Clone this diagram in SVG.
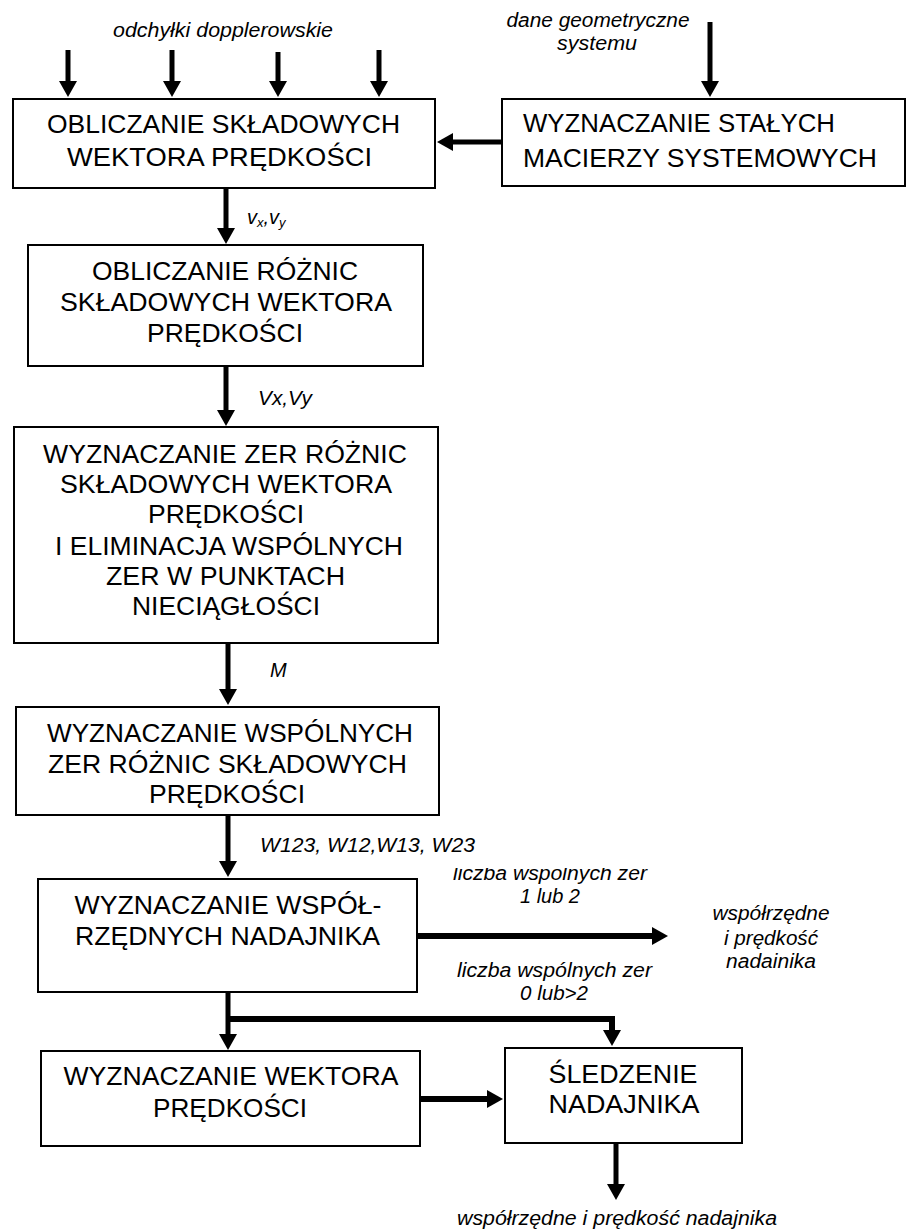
<svg xmlns="http://www.w3.org/2000/svg" width="919" height="1229" viewBox="0 0 919 1229">
<style>
.box{fill:#fff;stroke:#000;stroke-width:2}
.bt{font-family:"Liberation Sans",Arial,sans-serif;font-size:26px;fill:#000;text-anchor:middle}
.bl{font-family:"Liberation Sans",Arial,sans-serif;font-size:26px;fill:#000}
.lb{font-family:"Liberation Sans",Arial,sans-serif;font-size:20px;font-style:italic;fill:#000}
.lbm{font-family:"Liberation Sans",Arial,sans-serif;font-size:20px;font-style:italic;fill:#000;text-anchor:middle}
.cn{fill:none;stroke:#000;stroke-width:5;marker-end:url(#ah)}
.cn6{fill:none;stroke:#000;stroke-width:6;marker-end:url(#ah)}
</style>
<defs>
<marker id="ah" viewBox="0 0 16 18" refX="4" refY="9" markerWidth="16" markerHeight="18" markerUnits="userSpaceOnUse" orient="auto">
<path d="M0,0 L16,9 L0,18 z" fill="#000"/>
</marker>
<clipPath id="clipTop"><rect x="400" y="868" width="300" height="60"/></clipPath>
<clipPath id="clipBot"><rect x="400" y="950" width="300" height="52"/></clipPath>
</defs>
<rect width="919" height="1229" fill="#fff"/>

<g id="connectors">
<line class="cn" x1="68" y1="50" x2="68" y2="85"/>
<line class="cn" x1="172" y1="50" x2="172" y2="85"/>
<line class="cn" x1="278" y1="52" x2="278" y2="85"/>
<line class="cn" x1="379" y1="50" x2="379" y2="85"/>
<line class="cn" x1="710" y1="22" x2="710" y2="85"/>
<line class="cn" x1="502" y1="142" x2="449" y2="142"/>
<line class="cn" x1="226" y1="189" x2="226" y2="232"/>
<line class="cn" x1="226" y1="367" x2="226" y2="414"/>
<line class="cn" x1="228" y1="644" x2="228" y2="693"/>
<line class="cn" x1="228" y1="816" x2="228" y2="865"/>
<line class="cn6" x1="418" y1="936" x2="656" y2="936"/>
<line class="cn" x1="228" y1="993" x2="228" y2="1038"/>
<polyline class="cn6" points="228,1019 612,1019 612,1034"/>
<line class="cn6" x1="421" y1="1099" x2="491" y2="1099"/>
<line class="cn" x1="616" y1="1144" x2="616" y2="1188"/>
</g>

<g id="labels">
<text class="lbm" x="223" y="37" textLength="220" lengthAdjust="spacingAndGlyphs">odchyłki dopplerowskie</text>
<text class="lbm" x="598" y="27" textLength="183" lengthAdjust="spacingAndGlyphs">dane geometryczne</text>
<text class="lbm" x="597" y="50" textLength="80" lengthAdjust="spacingAndGlyphs">systemu</text>
<text class="lb" x="247" y="224">v<tspan font-size="13" dy="3">x</tspan><tspan dy="-3">,v</tspan><tspan font-size="13" dy="3">y</tspan></text>
<text class="lb" x="258" y="405" textLength="54" lengthAdjust="spacingAndGlyphs">Vx,Vy</text>
<text class="lb" x="270" y="677">M</text>
<text class="lb" x="260" y="852" textLength="215" lengthAdjust="spacingAndGlyphs">W123, W12,W13, W23</text>
<text class="lb" x="453" y="880" textLength="194" lengthAdjust="spacingAndGlyphs" clip-path="url(#clipTop)">liczba wspólnych zer</text>
<text class="lb" x="520" y="903" textLength="60" lengthAdjust="spacingAndGlyphs">1 lub 2</text>
<text class="lbm" x="771" y="920" textLength="117" lengthAdjust="spacingAndGlyphs">współrzędne</text>
<text class="lbm" x="771" y="945" textLength="94" lengthAdjust="spacingAndGlyphs">i prędkość</text>
<text class="lbm" x="771" y="968" textLength="90" lengthAdjust="spacingAndGlyphs">nadainika</text>
<text class="lb" x="457" y="977" textLength="195" lengthAdjust="spacingAndGlyphs">liczba wspólnych zer</text>
<text class="lb" x="520" y="1000" textLength="68" lengthAdjust="spacingAndGlyphs" clip-path="url(#clipBot)">0 lub&gt;2</text>
<text class="lbm" x="617" y="1225" textLength="320" lengthAdjust="spacingAndGlyphs">współrzędne i prędkość nadajnika</text>
</g>

<g id="node-obliczanie-skladowych">
<rect class="box" x="13" y="99" width="422" height="89"/>
<text class="bt" x="223.5" y="133" textLength="353" lengthAdjust="spacingAndGlyphs">OBLICZANIE SKŁADOWYCH</text>
<text class="bt" x="219.5" y="166" textLength="305" lengthAdjust="spacingAndGlyphs">WEKTORA PRĘDKOŚCI</text>
</g>

<g id="node-wyznaczanie-macierzy">
<rect class="box" x="502" y="99" width="403" height="87"/>
<text class="bl" x="523" y="132" textLength="312" lengthAdjust="spacingAndGlyphs">WYZNACZANIE STAŁYCH</text>
<text class="bl" x="523" y="167" textLength="354" lengthAdjust="spacingAndGlyphs">MACIERZY SYSTEMOWYCH</text>
</g>

<g id="node-obliczanie-roznic">
<rect class="box" x="28" y="245" width="395" height="121"/>
<text class="bt" x="225" y="280" textLength="266" lengthAdjust="spacingAndGlyphs">OBLICZANIE RÓŻNIC</text>
<text class="bt" x="226" y="311" textLength="332" lengthAdjust="spacingAndGlyphs">SKŁADOWYCH WEKTORA</text>
<text class="bt" x="225" y="342" textLength="156" lengthAdjust="spacingAndGlyphs">PRĘDKOŚCI</text>
</g>

<g id="node-wyznaczanie-zer">
<rect class="box" x="14" y="427" width="424" height="216"/>
<text class="bt" x="225" y="463" textLength="364" lengthAdjust="spacingAndGlyphs">WYZNACZANIE ZER RÓŻNIC</text>
<text class="bt" x="226" y="493" textLength="332" lengthAdjust="spacingAndGlyphs">SKŁADOWYCH WEKTORA</text>
<text class="bt" x="226" y="523" textLength="156" lengthAdjust="spacingAndGlyphs">PRĘDKOŚCI</text>
<text class="bt" x="229" y="555" textLength="348" lengthAdjust="spacingAndGlyphs">I ELIMINACJA WSPÓLNYCH</text>
<text class="bt" x="225.5" y="585" textLength="239" lengthAdjust="spacingAndGlyphs">ZER W PUNKTACH</text>
<text class="bt" x="226" y="615" textLength="188" lengthAdjust="spacingAndGlyphs">NIECIĄGŁOŚCI</text>
</g>

<g id="node-wyznaczanie-wspolnych">
<rect class="box" x="16" y="707" width="423" height="108"/>
<text class="bt" x="230" y="742" textLength="366" lengthAdjust="spacingAndGlyphs">WYZNACZANIE WSPÓLNYCH</text>
<text class="bt" x="227.5" y="773" textLength="359" lengthAdjust="spacingAndGlyphs">ZER RÓŻNIC SKŁADOWYCH</text>
<text class="bt" x="227" y="803" textLength="156" lengthAdjust="spacingAndGlyphs">PRĘDKOŚCI</text>
</g>

<g id="node-wyznaczanie-wspolrzednych">
<rect class="box" x="38" y="879" width="379" height="113"/>
<text class="bt" x="228" y="914" textLength="307" lengthAdjust="spacingAndGlyphs">WYZNACZANIE WSPÓŁ-</text>
<text class="bt" x="227.5" y="945" textLength="305" lengthAdjust="spacingAndGlyphs">RZĘDNYCH NADAJNIKA</text>
</g>

<g id="node-wyznaczanie-wektora">
<rect class="box" x="41" y="1051" width="379" height="95"/>
<text class="bt" x="231" y="1085" textLength="335" lengthAdjust="spacingAndGlyphs">WYZNACZANIE WEKTORA</text>
<text class="bt" x="230" y="1117" textLength="154" lengthAdjust="spacingAndGlyphs">PRĘDKOŚCI</text>
</g>

<g id="node-sledzenie">
<rect class="box" x="505" y="1048" width="237" height="95"/>
<text class="bt" x="623" y="1083" textLength="149" lengthAdjust="spacingAndGlyphs">ŚLEDZENIE</text>
<text class="bt" x="624" y="1113" textLength="151" lengthAdjust="spacingAndGlyphs">NADAJNIKA</text>
</g>
</svg>
